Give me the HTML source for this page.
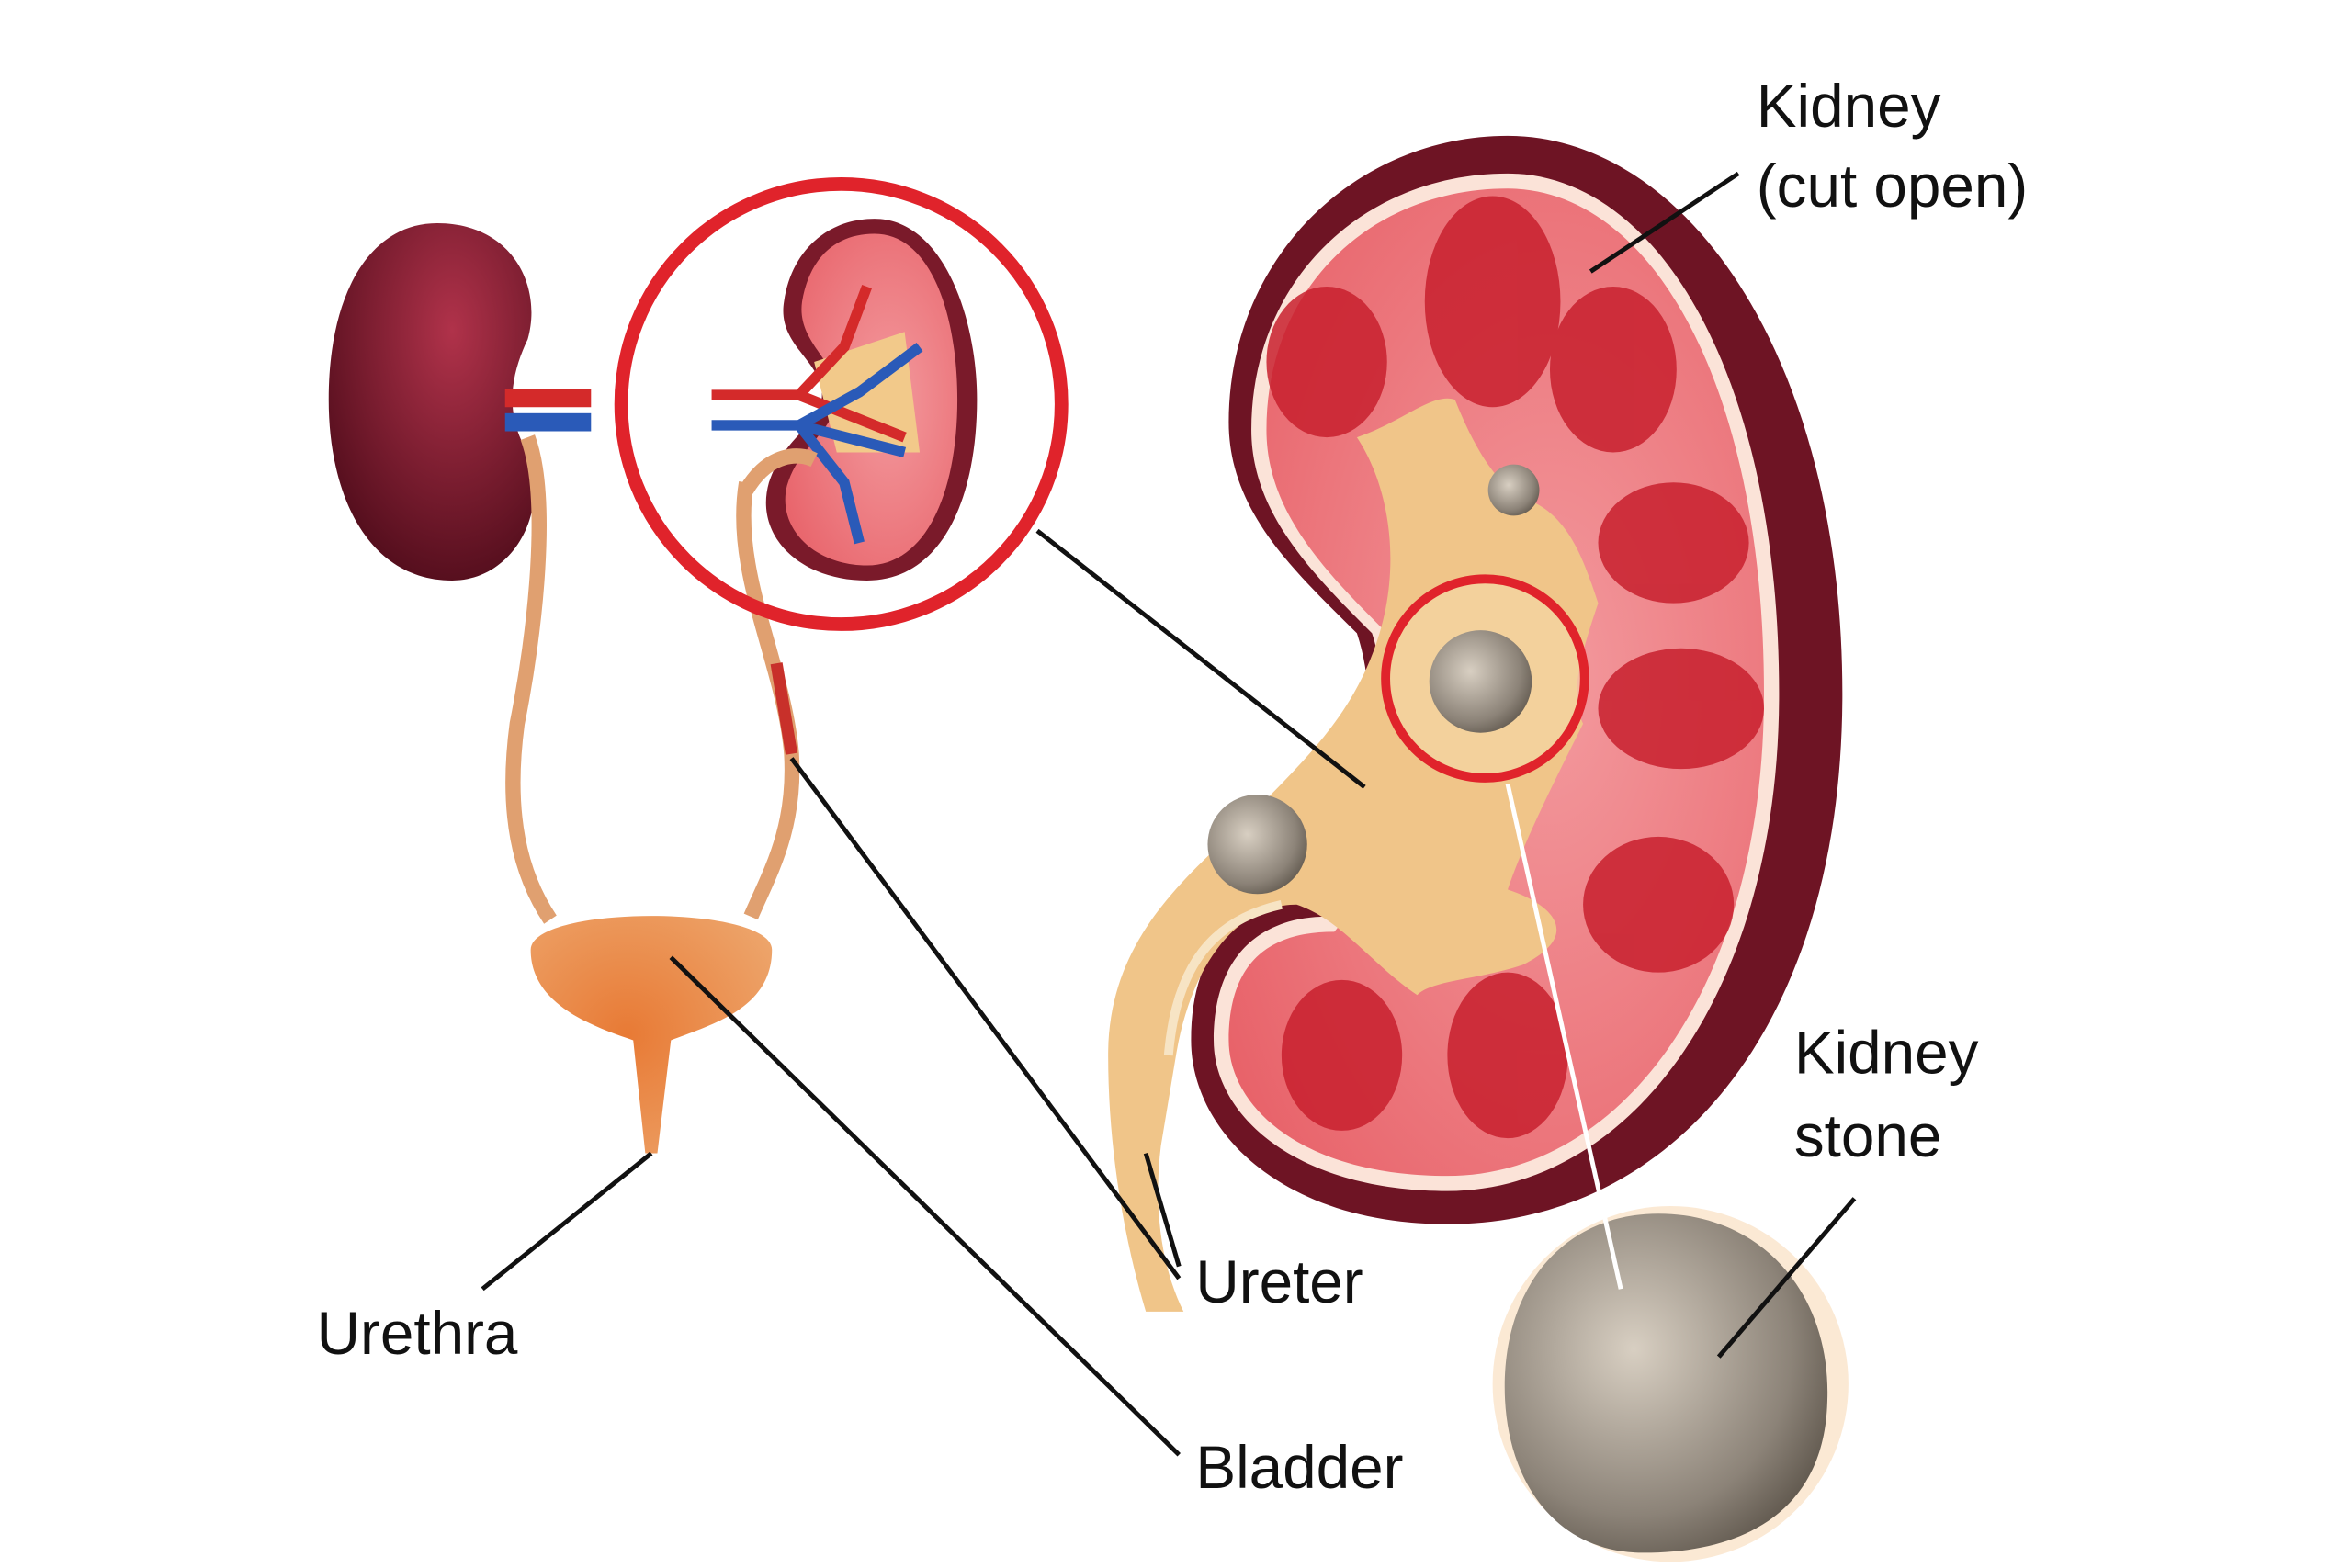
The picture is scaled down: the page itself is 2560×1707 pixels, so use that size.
<!DOCTYPE html>
<html><head><meta charset="utf-8"><style>
html,body{margin:0;padding:0;background:#fff;}
svg{display:block;}
text{font-family:"Liberation Sans",sans-serif;font-size:40px;fill:#111;}
</style></head><body>
<svg width="2560" height="1707" viewBox="0 0 1560 1040" xmlns="http://www.w3.org/2000/svg">
<defs>
<radialGradient id="kd" cx="0.6" cy="0.3" r="0.8"><stop offset="0" stop-color="#b0324a"/><stop offset="1" stop-color="#4a0a18"/></radialGradient>
<radialGradient id="bl" cx="0.4" cy="0.5" r="0.7"><stop offset="0" stop-color="#e87a35"/><stop offset="1" stop-color="#eda46a"/></radialGradient>
<radialGradient id="st" cx="0.4" cy="0.4" r="0.7"><stop offset="0" stop-color="#d8cfc2"/><stop offset="0.7" stop-color="#8c8378"/><stop offset="1" stop-color="#5a5248"/></radialGradient>
<radialGradient id="pk" cx="0.6" cy="0.5" r="0.7"><stop offset="0" stop-color="#f39a9e"/><stop offset="1" stop-color="#e8636a"/></radialGradient>
</defs>
<!-- left kidney -->
<path d="M290,148 C340,148 360,190 350,225 C338,250 335,275 350,300 C365,340 340,385 300,385 C245,385 218,330 218,265 C218,195 245,148 290,148Z" fill="url(#kd)"/>
<rect x="335" y="258" width="57" height="12" fill="#d42a2a"/>
<rect x="335" y="274" width="57" height="12" fill="#2a5ab8"/>
<!-- ureters -->
<path d="M350,290 C365,330 355,420 343,480 C335,540 345,580 365,610" stroke="#e0a070" stroke-width="10" fill="none"/>
<path d="M495,320 C485,380 520,440 525,500 C528,550 510,580 498,608" stroke="#e0a070" stroke-width="10" fill="none"/>
<path d="M515,440 L525,500" stroke="#c8302a" stroke-width="8" fill="none"/>
<!-- bladder -->
<path d="M352,630 C352,600 512,600 512,630 C512,670 470,680 445,690 L436,765 L428,765 L420,690 C390,680 352,665 352,630Z" fill="url(#bl)"/>
<!-- small cut kidney -->
<path d="M580,145 C625,145 648,210 648,265 C648,330 625,385 575,385 C530,385 500,355 510,320 C520,290 540,285 545,265 C548,240 515,230 520,200 C525,165 550,145 580,145Z" fill="#7a1a2a"/>
<path d="M580,155 C618,155 635,210 635,265 C635,325 615,375 575,375 C540,375 515,350 522,322 C530,295 552,288 555,265 C558,240 528,228 532,200 C537,170 555,155 580,155Z" fill="url(#pk)"/>
<path d="M540,240 L600,220 L610,300 L555,300 Z" fill="#f2c98a"/>
<path d="M472,262 L530,262 L560,230 L575,190 M530,262 L600,290" stroke="#d42a2a" stroke-width="7" fill="none"/>
<path d="M472,282 L530,282 L570,260 L610,230 M530,282 L560,320 L570,360 M530,282 L600,300" stroke="#2a5ab8" stroke-width="7" fill="none"/>
<path d="M495,325 C510,300 530,300 540,305" stroke="#e0a070" stroke-width="10" fill="none"/>
<circle cx="558" cy="268" r="146" fill="none" stroke="#e0232b" stroke-width="9"/>
<!-- big kidney -->
<path d="M1000,90 C1120,90 1222,240 1222,460 C1222,680 1110,812 960,812 C850,812 790,750 790,690 C790,620 830,595 880,595 C900,570 920,480 900,420 C860,380 815,340 815,280 C815,170 900,90 1000,90Z" fill="#6e1424"/>
<path d="M1000,115 C1100,115 1180,250 1180,460 C1180,660 1080,790 960,790 C860,790 805,740 805,690 C805,630 840,608 880,608 C905,580 930,480 910,420 C870,380 830,340 830,285 C830,185 905,115 1000,115Z" fill="#fbe3d8"/>
<path d="M1000,125 C1095,125 1170,255 1170,460 C1170,655 1075,780 960,780 C865,780 815,735 815,690 C815,635 845,618 885,618 C915,585 940,480 920,420 C880,380 840,340 840,285 C840,190 910,125 1000,125Z" fill="url(#pk)"/>
<!-- pyramids -->
<g fill="#c8202e" opacity="0.85">
<ellipse cx="990" cy="200" rx="45" ry="70"/>
<ellipse cx="1070" cy="245" rx="42" ry="55"/>
<ellipse cx="880" cy="240" rx="40" ry="50"/>
<ellipse cx="1110" cy="360" rx="50" ry="40"/>
<ellipse cx="1115" cy="470" rx="55" ry="40"/>
<ellipse cx="1100" cy="600" rx="50" ry="45"/>
<ellipse cx="1000" cy="700" rx="40" ry="55"/>
<ellipse cx="890" cy="700" rx="40" ry="50"/>
</g>
<!-- pelvis -->
<path d="M900,290 C930,280 950,260 965,265 C975,290 990,320 1010,330 C1040,340 1050,370 1060,400 C1050,430 1040,460 1050,480 C1030,520 1010,560 1000,590 C1030,600 1050,620 1010,640 C980,650 950,650 940,660 C910,640 890,610 860,600 C820,600 790,640 780,700 L770,760 C765,800 770,840 785,870 L760,870 C745,820 735,760 735,700 C735,620 790,580 830,540 C870,500 900,470 915,420 C930,370 920,320 900,290Z" fill="#f0c589"/>
<path d="M775,700 C780,640 805,610 850,600" stroke="#f7e4c4" stroke-width="6" fill="none"/>
<!-- small circle + stones -->
<circle cx="985" cy="450" r="65" fill="#f5d8a8" opacity="0.6"/>
<circle cx="982" cy="452" r="34" fill="url(#st)"/>
<circle cx="1004" cy="325" r="17" fill="url(#st)"/>
<circle cx="834" cy="560" r="33" fill="url(#st)"/>
<circle cx="985" cy="450" r="66" fill="none" stroke="#e0232b" stroke-width="6"/>
<!-- big stone -->
<circle cx="1108" cy="918" r="118" fill="#f9dfc2" opacity="0.7"/>
<path d="M1100,805 C1170,805 1215,860 1212,930 C1210,1000 1160,1030 1090,1030 C1030,1030 998,980 998,920 C998,850 1040,805 1100,805Z" fill="url(#st)"/>
<!-- lines -->
<g stroke="#111" stroke-width="3" fill="none">
<line x1="688" y1="352" x2="905" y2="522"/>
<line x1="525" y1="503" x2="782" y2="848"/>
<line x1="760" y1="765" x2="782" y2="840"/>
<line x1="445" y1="635" x2="782" y2="965"/>
<line x1="432" y1="765" x2="320" y2="855"/>
<line x1="1153" y1="115" x2="1055" y2="180"/>
<line x1="1230" y1="795" x2="1140" y2="900"/>
</g>
<line x1="1000" y1="520" x2="1075" y2="855" stroke="#fff" stroke-width="3"/>
<!-- labels -->
<text x="1165" y="84">Kidney</text>
<text x="1165" y="137">(cut open)</text>
<text x="1190" y="712">Kidney</text>
<text x="1190" y="767">stone</text>
<text x="793" y="864">Ureter</text>
<text x="210" y="898">Urethra</text>
<text x="793" y="987">Bladder</text>
</svg>
</body></html>
